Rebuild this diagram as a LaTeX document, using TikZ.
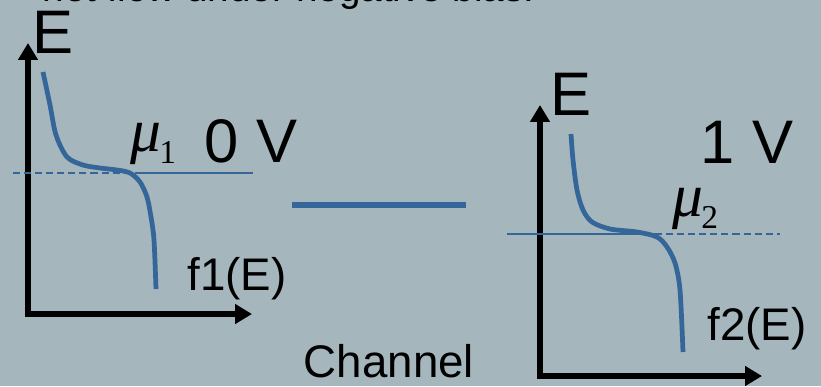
\documentclass[tikz,border=0pt]{standalone}
\usepackage{fontspec}
\setmainfont{Liberation Sans}
\newfontfamily\mufont{Liberation Serif}
\usetikzlibrary{positioning,arrows.meta}
\definecolor{slidebg}{RGB}{165,182,189}
\definecolor{fermiblue}{RGB}{52,102,154}
\newcommand{\chempot}[1]{{\mufont\itshape μ}\kern-1pt\raisebox{-7pt}{\mufont\fontsize{19}{22}\selectfont #1}}

\begin{document}
\begin{tikzpicture}[x=0.02cm,y=-0.02cm, every node/.style={inner sep=0pt},
  axis/.style={line width=3.6pt,{Triangle[length=9.6pt,width=10.8pt]}-{Triangle[length=9.6pt,width=10.8pt]}},
  fermi/.style={fermiblue,line width=2.7pt},
  level/.style={fermiblue,line width=0.9pt},
  biglbl/.style={font=\fontsize{35}{40}\selectfont,anchor=base},
  lbl/.style={font=\fontsize{26}{30}\selectfont,anchor=base},
  mulbl/.style={font=\fontsize{35}{40}\selectfont,anchor=base west}]
      \fill[slidebg] (0,0) rectangle (821,386);
      \clip (0,0) rectangle (821,386);
      \node[font=\fontsize{22}{26}\selectfont,anchor=base east] (title) at (535,1) {net flow under negative bias:};

      % left contact
      \coordinate (e1) at (28,43);
      \coordinate (x1) at (252,314);
      \draw[axis] (e1) |- (x1);
      \coordinate (m1a) at (13,173);
      \coordinate (m1b) at (138,173);
      \coordinate (m1c) at (253,173);
      \draw[level,dash pattern=on 4pt off 2.3pt] (m1a) -- (m1b);
      \draw[level] (m1b) -- (m1c);
      \draw[fermi] plot[smooth] coordinates {(43,72) (50,105) (56,135) (67,157) (83,165) (100,168) (117,170) (130,173) (140,182) (147,197) (151,217) (154,240) (156,289)};
      \node[biglbl] (E1) at (53,53) {E};
      \node[mulbl] (mu1) at (130,151) {\chempot{1}};
      \node[biglbl] (V1) at (251,162) {0 V};
      \node[lbl] (fE1) at (237,290) {f1(E)};

      % channel
      \coordinate (chl) at (292,205);
      \coordinate (chr) at (466,205);
      \draw[fermiblue,line width=3.4pt] (chl) -- (chr);
      \node[lbl] (chan) at (389,377) {Channel};

      % right contact
      \coordinate (e2) at (540,105);
      \coordinate (x2) at (762,376);
      \draw[axis] (e2) |- (x2);
      \coordinate (m2a) at (507,234);
      \coordinate (m2b) at (655,234);
      \coordinate (m2c) at (780,234);
      \draw[level] (m2a) -- (m2b);
      \draw[level,dash pattern=on 4pt off 2.3pt] (m2b) -- (m2c);
      \draw[fermi] plot[smooth] coordinates {(571,134) (573,160) (577,190) (583,210) (592,222) (610,229) (637,232) (657,237) (667,247) (675,263) (680,290) (683,352)};
      \node[biglbl] (E2) at (571,115) {E};
      \node[mulbl] (mu2) at (672,216) {\chempot{2}};
      \node[biglbl] (V2) at (747,163) {1 V};
      \node[lbl] (fE2) at (757,340) {f2(E)};
\end{tikzpicture}
\end{document}
